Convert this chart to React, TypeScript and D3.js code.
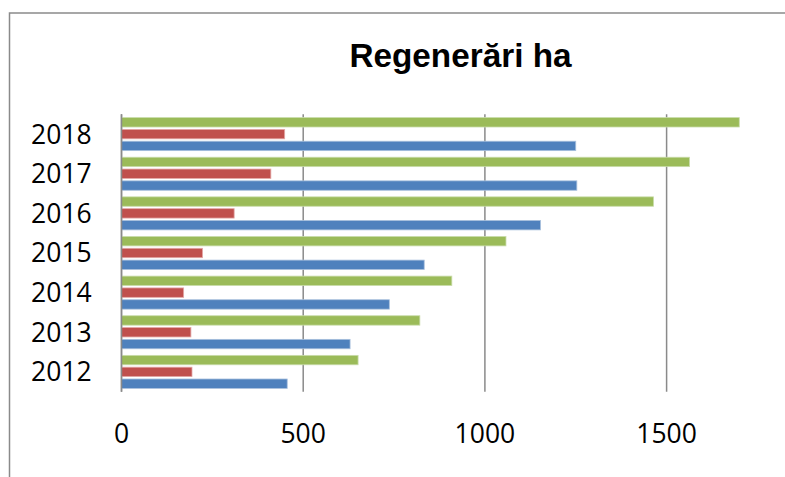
import React from 'react';
import * as d3 from 'd3';

const categories = ['2012', '2013', '2014', '2015', '2016', '2017', '2018'];
const seriesBlue = [456, 629, 737, 833, 1153, 1253, 1250];
const seriesRed = [194, 191, 171, 223, 310, 411, 449];
const seriesGreen = [651, 821, 909, 1058, 1464, 1563, 1700];
const xTicks = [0, 500, 1000, 1500];
const title = 'Regenerări ha';

const seriesNames = ['green', 'red', 'blue'];
const seriesColors: Record<string, string> = { green: '#9BBB59', red: '#C0504D', blue: '#4F81BD' };
const seriesEdge: Record<string, string> = { green: '#c9dcaa', red: '#e3a9a7', blue: '#a9c0dd' };

export default function App() {
  const W = 785, H = 477;
  const left = 121.5, right = 848.3, top = 114.3, bottom = 391.7;
  const x = d3.scaleLinear().domain([0, 2000]).range([left, right]);
  const catsTopDown = [...categories].reverse();
  const y0 = d3.scaleBand<string>().domain(catsTopDown).range([top, bottom]).paddingInner(0.106).paddingOuter(0.053);
  const y1 = d3.scaleBand<string>().domain(seriesNames).range([0, y0.bandwidth()]).padding(0);
  const valuesOf: Record<string, number[]> = { green: seriesGreen, red: seriesRed, blue: seriesBlue };
  const font = '"Open Sans", "Liberation Sans", sans-serif';
  const fs = 26.5;
  const gridColor = '#8a8a8a';

  return (
    <svg width={W} height={H} style={{ position: 'absolute', left: 0, top: 0, background: '#fff' }}>
      <rect x={0} y={0} width={W} height={H} fill="#fff" />
      <rect x={9.5} y={13} width={900} height={520} fill="#fff" stroke={gridColor} strokeWidth={1.5} />
      <text x={460.5} y={67} textAnchor="middle" fontFamily='"Liberation Sans", Arial, sans-serif' fontWeight="bold" fontSize={33.3} fill="#000">{title}</text>
      {xTicks.map(t => (
        <line key={'g' + t} x1={x(t)} x2={x(t)} y1={top} y2={bottom} stroke={gridColor} strokeWidth={1.5} />
      ))}
      {catsTopDown.map(c => {
        const i = categories.indexOf(c);
        return (
          <g key={c} transform={`translate(0,${y0(c)})`}>
            {seriesNames.map(s => {
              const v = valuesOf[s][i];
              const sy = y1(s)!;
              const h = y1.bandwidth();
              return (
                <rect key={s} x={x(0)} y={sy + 1.2} width={x(v) - x(0)} height={h - 2.4}
                  fill={seriesColors[s]} stroke={seriesEdge[s]} strokeWidth={0.8} />
              );
            })}
          </g>
        );
      })}
      <line x1={x(0)} x2={x(0)} y1={top} y2={bottom} stroke={gridColor} strokeWidth={1.5} />
      {catsTopDown.map(c => (
        <text key={'l' + c} x={91.7} y={y0(c)! - y0.step() * 0.053 + y0.step() / 2 + fs * 0.357} textAnchor="end" fontFamily={font} fontSize={fs} fill="#000">{c}</text>
      ))}
      {xTicks.map(t => (
        <text key={'t' + t} x={x(t)} y={442.7} textAnchor="middle" fontFamily={font} fontSize={fs} fill="#000">{t}</text>
      ))}
    </svg>
  );
}
